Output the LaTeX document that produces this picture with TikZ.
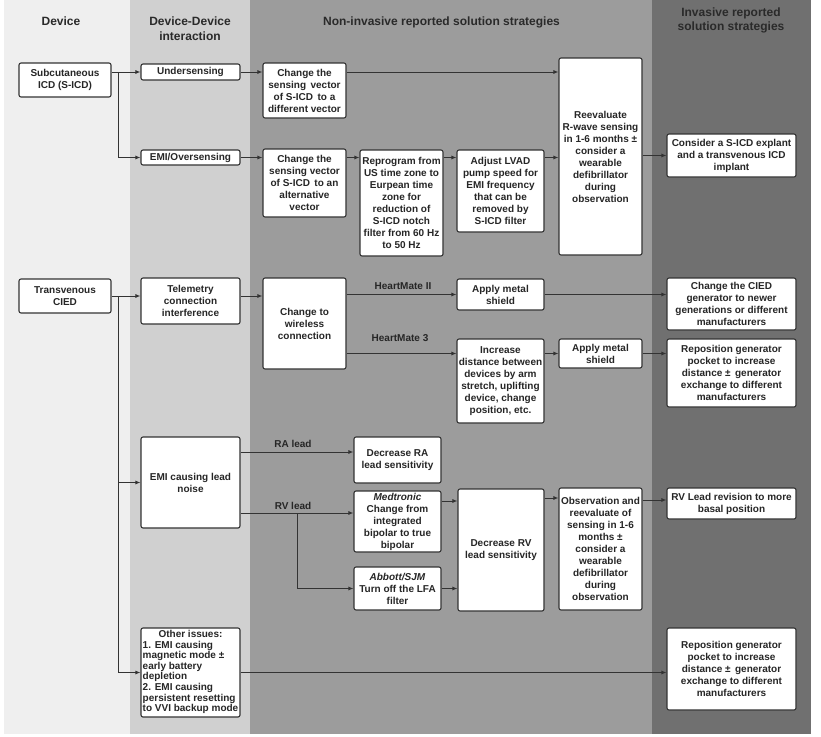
\documentclass[tikz,border=0pt]{standalone}
\usepackage{fontspec}
\setmainfont{Liberation Sans}
\usetikzlibrary{arrows.meta}
\definecolor{colA}{HTML}{EFEFEF}
\definecolor{colB}{HTML}{D0D0D0}
\definecolor{colC}{HTML}{9C9C9C}
\definecolor{colD}{HTML}{707070}
\definecolor{boxline}{HTML}{333333}
\definecolor{lnc}{HTML}{333333}
\definecolor{txt}{HTML}{262626}
\definecolor{hdrc}{HTML}{2A2A2A}
\begin{document}
\begin{tikzpicture}[x=1pt,y=-1pt,
  box/.style={draw=boxline, fill=white, line width=1.1pt, rounded corners=2pt, align=center,
    inner sep=1pt, font=\bfseries\fontsize{10}{12}\selectfont, text=txt},
  bx/.style n args={2}{box, minimum width=#1pt, minimum height=#2pt},
  conn/.style={draw=lnc, line width=0.9pt, -{Latex[length=5pt,width=4pt]}},
  lab/.style={font=\bfseries\fontsize{10}{12}\selectfont, text=txt, inner sep=0pt},
  hdr/.style={font=\bfseries\fontsize{12}{15}\selectfont, text=hdrc, align=center, inner sep=0pt}]
\useasboundingbox[fill=white] (0,0) rectangle (821,736);
% column backgrounds
\fill[colA] (4,0) rectangle (130,734);
\fill[colB] (130,0) rectangle (250,734);
\fill[colC] (250,0) rectangle (652,734);
\fill[colD] (652,0) rectangle (811,734);
% headers
\node[hdr] (h1) at (61,21) {Device};
\node[hdr] (h2) at (190,28.5) {Device-Device\\interaction};
\node[hdr] (h3) at (441.5,22) {Non-invasive reported solution strategies};
\node[hdr, font=\bfseries\fontsize{12}{14.5}\selectfont] (h4) at (731,20.5) {Invasive reported\\solution strategies};
% S-ICD part
\node[bx={92}{34}] (sicd) at (65,80) {Subcutaneous\\ICD (S-ICD)};
\node[bx={99}{16}] (under) at (190.5,72) {Undersensing};
\node[bx={83}{55}] (cv1) at (304.5,90.5) {Change the\\sensing\, vector\\of S-ICD\, to a\\different vector};
\node[bx={99}{15}] (emi) at (190.5,157.5) {EMI/Oversensing};
\node[bx={83}{68}] (cv2) at (304.5,183) {Change the\\sensing vector\\of S-ICD\, to an\\alternative\\vector};
\node[bx={83}{106}] (repro) at (401.5,203) {Reprogram from\\US time zone to\\Eurpean time\\zone for\\reduction of\\S-ICD notch\\filter from 60 Hz\\to 50 Hz};
\node[bx={87}{82}] (adjust) at (500.5,191) {Adjust LVAD\\pump speed for\\EMI frequency\\that can be\\removed by\\S-ICD filter};
\node[bx={83}{197}] (reeval) at (600.5,156.5) {Reevaluate\\R-wave sensing\\in 1-6 months ±\\consider a\\wearable\\defibrillator\\during\\observation};
\node[bx={129}{43}] (explant) at (731.5,155.5) {Consider a S-ICD explant\\and a transvenous ICD\\implant};
% Transvenous part
\node[bx={92}{34}] (tcied) at (65,296) {Transvenous\\CIED};
\node[bx={99}{46}] (telem) at (190.5,301) {Telemetry\\connection\\interference};
\node[bx={83}{91}] (wireless) at (304.5,323.5) {Change to\\wireless\\connection};
\node[bx={87}{31}] (shield1) at (500.5,294.5) {Apply metal\\shield};
\node[bx={129}{52}] (cied) at (731.5,304) {Change the CIED\\generator to newer\\generations or different\\manufacturers};
\node[bx={87}{84}] (increase) at (500.5,381) {Increase\\distance between\\devices by arm\\stretch, uplifting\\device, change\\position, etc.};
\node[bx={83}{29}] (shield2) at (600.5,353.5) {Apply metal\\shield};
\node[bx={129}{68}] (repos1) at (731.5,373) {Reposition generator\\pocket to increase\\distance ±\, generator\\exchange to different\\manufacturers};
\node[bx={99}{91}] (leadnoise) at (190.5,482.5) {EMI causing lead\\noise};
\node[bx={87}{46}] (decra) at (397.5,460) {Decrease RA\\lead sensitivity};
\node[bx={87}{61}] (medt) at (397.5,521.5) {\textit{Medtronic}\\Change from\\integrated\\bipolar to true\\bipolar};
\node[bx={87}{43}] (abbott) at (397.5,588.5) {\textit{Abbott/SJM}\\Turn off the LFA\\filter};
\node[bx={86}{122}] (decrv) at (501,550) {Decrease RV\\lead sensitivity};
\node[bx={83}{122}] (obs) at (600.5,549) {Observation and\\reevaluate of\\sensing in 1-6\\months ±\\consider a\\wearable\\defibrillator\\during\\observation};
\node[bx={129}{31}] (rvrev) at (731.5,503.5) {RV Lead revision to more\\basal position};
\node[bx={99}{89}, font=\bfseries\fontsize{10}{10.6}\selectfont] (other) at (190.5,672.5)
  {\begin{tabular}{@{}l@{}}\multicolumn{1}{@{}c@{}}{Other issues:}\\1. EMI causing\\magnetic mode ±\\early battery\\depletion\\2. EMI causing\\persistent resetting\\to VVI backup mode\end{tabular}};
\node[bx={129}{82}] (repos2) at (731.5,669) {Reposition generator\\pocket to increase\\distance ±\, generator\\exchange to different\\manufacturers};
% helper coordinates
\coordinate (j1) at (118,72);
\coordinate (j2) at (118,296);
\coordinate (yRA) at (0,452);
\coordinate (yRV) at (0,513);
\coordinate (rvb) at (297,513);
\coordinate (yM) at (0,501);
\coordinate (yD) at (0,498);
\coordinate (yO) at (0,500);
% connectors S-ICD
\draw[conn] (sicd.east |- under) -- (under.west);
\draw[conn] (j1) |- (emi.west);
\draw[conn] (under.east) -- (cv1.west |- under);
\draw[conn] (cv1.east |- under) -- (reeval.west |- under);
\draw[conn] (emi.east) -- (cv2.west |- emi);
\draw[conn] (cv2.east |- emi) -- (repro.west |- emi);
\draw[conn] (repro.east |- emi) -- (adjust.west |- emi);
\draw[conn] (adjust.east |- emi) -- (reeval.west |- emi);
\draw[conn] (reeval.east |- explant) -- (explant.west);
% connectors transvenous
\draw[conn] (tcied.east) -- (telem.west |- tcied);
\draw[conn] (j2) |- (leadnoise.west);
\draw[conn] (j2) |- (other.west);
\draw[conn] (telem.east |- tcied) -- (wireless.west |- tcied);
\draw[conn] (wireless.east |- shield1) -- (shield1.west);
\draw[conn] (shield1.east) -- (cied.west |- shield1);
\draw[conn] (wireless.east |- shield2) -- (increase.west |- shield2);
\draw[conn] (increase.east |- shield2) -- (shield2.west);
\draw[conn] (shield2.east) -- (repos1.west |- shield2);
\draw[conn] (leadnoise.east |- yRA) -- (decra.west |- yRA);
\draw[conn] (leadnoise.east |- yRV) -- (medt.west |- yRV);
\draw[conn] (rvb) |- (abbott.west);
\draw[conn] (medt.east |- yM) -- (decrv.west |- yM);
\draw[conn] (abbott.east) -- (decrv.west |- abbott);
\draw[conn] (decrv.east |- yD) -- (obs.west |- yD);
\draw[conn] (obs.east |- yO) -- (rvrev.west |- yO);
\draw[conn] (other.east) -- (repos2.west |- other);
% labels
\node[lab] (hm2) at (403,286) {HeartMate II};
\node[lab] (hm3) at (400,338) {HeartMate 3};
\node[lab] (ralab) at (293,444) {RA lead};
\node[lab] (rvlab) at (293,506) {RV lead};
\end{tikzpicture}
\end{document}
